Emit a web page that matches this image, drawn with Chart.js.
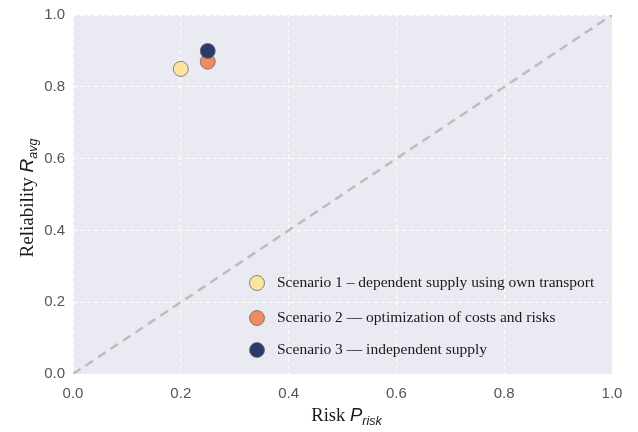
<!DOCTYPE html>
<html>
<head>
<title>Risk vs reliability</title>
<script src="https://cdn.jsdelivr.net/npm/chart.js@4.4.1/dist/chart.umd.min.js"></script>
<style>
  html, body { margin:0; padding:0; background:#ffffff; }
  #wrap { width:638px; height:432px; }
</style>
</head>
<body>
<div id="wrap"><canvas id="myChart" width="638" height="432"></canvas></div>
<script>
// data
const scenarioNames = [
  'Scenario 1 \u2013 dependent supply using own transport',
  'Scenario 2 \u2014 optimization of costs and risks',
  'Scenario 3 \u2014 independent supply'
];
const riskValues = [0.20, 0.25, 0.25];
const reliabilityValues = [0.85, 0.87, 0.90];
const scenarioColors = ['#fce49c', '#f08a60', '#2b3a6b'];
const diagonalX = [0, 1];
const diagonalY = [0, 1];
const tickValues = [0, 0.2, 0.4, 0.6, 0.8, 1.0];

const datasets = scenarioNames.map(function(name, i) {
  return {
    type: 'scatter',
    label: name,
    data: [{ x: riskValues[i], y: reliabilityValues[i] }],
    backgroundColor: scenarioColors[i],
    borderColor: '#6b6b6b',
    borderWidth: 0.8,
    pointRadius: 7.5,
    pointHoverRadius: 7.5,
    order: 3 - i
  };
});
datasets.push({
  type: 'line',
  label: 'diagonal',
  data: diagonalX.map(function(x, i) { return { x: x, y: diagonalY[i] }; }),
  borderColor: '#bdbdbd',
  borderWidth: 2.5,
  borderDash: [9, 6],
  pointRadius: 0,
  fill: false,
  order: 10
});

// grey plot background
const plotBg = {
  id: 'plotBg',
  beforeDraw(chart) {
    const a = chart.chartArea, c = chart.ctx;
    c.save();
    c.fillStyle = '#eaeaf2';
    c.fillRect(a.left, a.top, a.right - a.left, a.bottom - a.top);
    c.restore();
  }
};

// text made of pieces (for subscripts), centred on x
function drawParts(c, parts, x, y) {
  let w = 0;
  parts.forEach(function(p) { c.font = p.font; w += c.measureText(p.text).width; });
  let cx = x - w / 2;
  parts.forEach(function(p) {
    c.font = p.font;
    c.fillText(p.text, cx, y + (p.dy || 0));
    cx += c.measureText(p.text).width;
  });
}

const extras = {
  id: 'extras',
  afterDraw(chart) {
    const c = chart.ctx, a = chart.chartArea;
    c.save();
    c.fillStyle = '#1a1a1a';
    c.textBaseline = 'alphabetic';
    // x title
    drawParts(c, [
      { text: 'Risk ', font: '18.5px "Liberation Serif"' },
      { text: 'P', font: 'italic 18.5px "Liberation Sans"' },
      { text: 'risk', font: 'italic 12.5px "Liberation Sans"', dy: 4 }
    ], (a.left + a.right) / 2 + 4, 421);
    // y title
    c.save();
    c.translate(33, 198);
    c.rotate(-Math.PI / 2);
    drawParts(c, [
      { text: 'Reliability ', font: '19px "Liberation Serif"' },
      { text: 'R', font: 'italic 19px "Liberation Sans"' },
      { text: 'avg', font: 'italic 12.5px "Liberation Sans"', dy: 4 }
    ], 0, 0);
    c.restore();
    // legend
    const rows = [283, 318, 350];
    scenarioNames.forEach(function(name, i) {
      c.beginPath();
      c.arc(257, rows[i], 7.5, 0, Math.PI * 2);
      c.fillStyle = scenarioColors[i];
      c.fill();
      c.lineWidth = 0.8;
      c.strokeStyle = '#6b6b6b';
      c.stroke();
      c.fillStyle = '#1a1a1a';
      c.font = '15.5px "Liberation Serif"';
      c.textBaseline = 'middle';
      c.fillText(name, 277, rows[i]);
    });
    c.restore();
  }
};

new Chart(document.getElementById('myChart').getContext('2d'), {
  data: { datasets: datasets },
  options: {
    responsive: false,
    animation: false,
    layout: { padding: { top: 15, right: 26, left: 0, bottom: 0 } },
    plugins: { legend: { display: false }, tooltip: { enabled: false } },
    scales: {
      x: {
        type: 'linear', min: 0, max: 1,
        afterFit(s) { s.height = 58; s.paddingLeft = 0; s.paddingRight = 0; },
        afterBuildTicks(s) { s.ticks = tickValues.map(function(v) { return { value: v }; }); },
        border: { display: false, dash: [4, 3] },
        grid: { color: '#ffffff', lineWidth: 1, drawTicks: false },
        ticks: {
          padding: 11, color: '#555555',
          font: { family: '"Liberation Sans"', size: 15 },
          callback(v) { return v.toFixed(1); }
        }
      },
      y: {
        type: 'linear', min: 0, max: 1,
        afterFit(s) { s.width = 73; s.paddingTop = 0; s.paddingBottom = 0; },
        afterBuildTicks(s) { s.ticks = tickValues.map(function(v) { return { value: v }; }); },
        border: { display: false, dash: [4, 3] },
        grid: { color: '#ffffff', lineWidth: 1, drawTicks: false },
        ticks: {
          padding: 8, color: '#555555',
          font: { family: '"Liberation Sans"', size: 15 },
          callback(v) { return v.toFixed(1); }
        }
      }
    }
  },
  plugins: [plotBg, extras]
});
</script>
</body>
</html>
